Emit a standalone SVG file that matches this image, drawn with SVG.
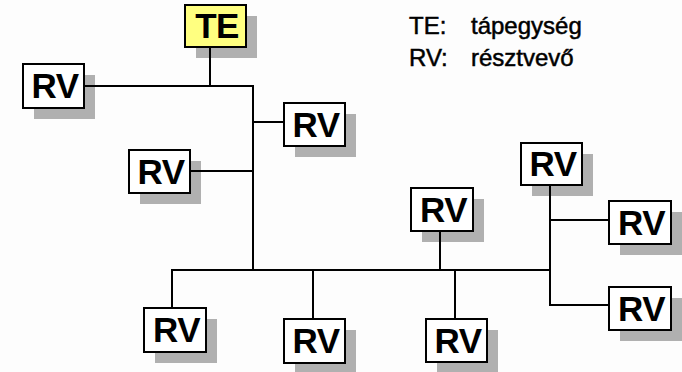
<svg xmlns="http://www.w3.org/2000/svg" width="682" height="372" viewBox="0 0 682 372">
<style>
.sh{fill:#b0b0b0}
.box{fill:#ffffff;stroke:#000;stroke-width:2}
.te{fill:#ffff80;stroke:#000;stroke-width:2}
.lbl{font-family:"Liberation Sans",Arial,sans-serif;font-weight:bold;font-size:35px;letter-spacing:-0.5px;text-anchor:middle;fill:#000}
.leg{font-family:"Liberation Sans",Arial,sans-serif;font-size:24px;fill:#000;stroke:#000;stroke-width:0.5px}
.ln{stroke:#000;stroke-width:2;fill:none}
</style>
<rect width="682" height="372" fill="#fdfdfd"/>
<g id="shadows">
<rect class="sh" x="196" y="16" width="61" height="42"/>
<rect class="sh" x="34" y="75" width="61" height="44"/>
<rect class="sh" x="295" y="114" width="61" height="43"/>
<rect class="sh" x="140" y="161" width="61" height="43"/>
<rect class="sh" x="155" y="319" width="62" height="44"/>
<rect class="sh" x="295" y="330" width="61" height="44"/>
<rect class="sh" x="422" y="199" width="62" height="43"/>
<rect class="sh" x="437" y="330" width="61" height="43"/>
<rect class="sh" x="532" y="154" width="61" height="42"/>
<rect class="sh" x="620" y="212" width="62" height="43"/>
<rect class="sh" x="620" y="298" width="62" height="43"/>
</g>
<g id="connectors">
<path class="ln" d="M210 47V86"/>
<path class="ln" d="M83 86H253V270"/>
<path class="ln" d="M253 122H284"/>
<path class="ln" d="M190 171H253"/>
<path class="ln" d="M172 308V270H550"/>
<path class="ln" d="M313 270V319"/>
<path class="ln" d="M440 231V270"/>
<path class="ln" d="M455 270V319"/>
<path class="ln" d="M550 185V305H609"/>
<path class="ln" d="M550 220H609"/>
</g>
<g id="TE"><rect class="te" x="185" y="5" width="61" height="42"/><text class="lbl" x="217" y="37.5">TE</text></g>
<g id="RV1"><rect class="box" x="23" y="64" width="61" height="44"/><text class="lbl" x="55" y="97.5">RV</text></g>
<g id="RV2"><rect class="box" x="284" y="103" width="61" height="43"/><text class="lbl" x="316" y="136.5">RV</text></g>
<g id="RV3"><rect class="box" x="129" y="150" width="61" height="43"/><text class="lbl" x="161" y="183.5">RV</text></g>
<g id="RV4"><rect class="box" x="144" y="308" width="62" height="44"/><text class="lbl" x="176.5" y="341.5">RV</text></g>
<g id="RV5"><rect class="box" x="284" y="319" width="61" height="44"/><text class="lbl" x="316" y="352.5">RV</text></g>
<g id="RV6"><rect class="box" x="411" y="188" width="62" height="43"/><text class="lbl" x="443.5" y="221.5">RV</text></g>
<g id="RV7"><rect class="box" x="426" y="319" width="61" height="43"/><text class="lbl" x="458" y="352.5">RV</text></g>
<g id="RV8"><rect class="box" x="521" y="143" width="61" height="42"/><text class="lbl" x="553" y="176">RV</text></g>
<g id="RV9"><rect class="box" x="609" y="201" width="62" height="43"/><text class="lbl" x="641.5" y="234.5">RV</text></g>
<g id="RV10"><rect class="box" x="609" y="287" width="62" height="43"/><text class="lbl" x="641.5" y="320.5">RV</text></g>
<g id="legend">
<text class="leg" x="409" y="34">TE:</text><text class="leg" x="471" y="34">tápegység</text>
<text class="leg" x="409" y="66">RV:</text><text class="leg" x="471" y="66">résztvevő</text>
</g>
</svg>
